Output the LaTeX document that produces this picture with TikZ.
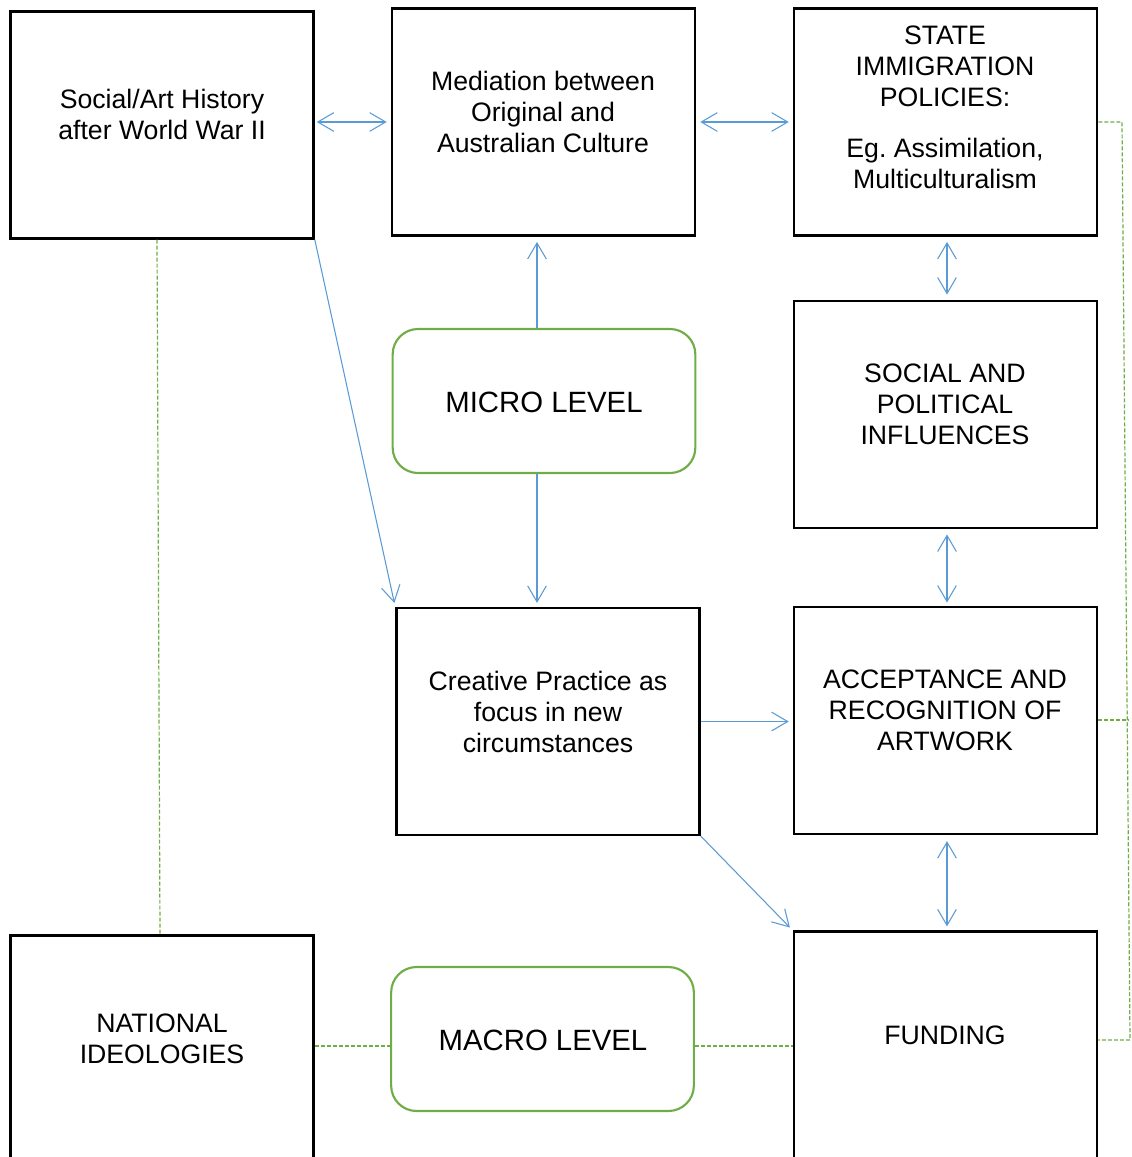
\documentclass[tikz,border=0pt]{standalone}
\usepackage{fontspec}
\setmainfont{Liberation Sans}
\usetikzlibrary{arrows.meta,calc}
\definecolor{arrblue}{HTML}{5B9BD5}
\definecolor{lvgreen}{HTML}{70AD47}
\begin{document}
\frenchspacing
\begin{tikzpicture}[x=0.75pt,y=-0.75pt,
  box/.style={draw=black, line width=1.9pt, inner sep=0pt, minimum width=227.25pt, minimum height=170pt},
  lvl/.style={draw=lvgreen, line width=1.6pt, rounded corners=19pt, inner sep=0pt, minimum width=227pt, minimum height=108pt},
  txt/.style={align=center, inner sep=0pt, font=\fontsize{20}{23.25}\selectfont},
  lvtxt/.style={align=center, inner sep=0pt, font=\fontsize{22}{26}\selectfont},
  conn/.style={draw=arrblue, line width=0.8pt},
  both/.style={conn, {Straight Barb[length=12pt,width=14pt]}-{Straight Barb[length=12pt,width=14pt]}},
  one/.style={conn, -{Straight Barb[length=12pt,width=14pt]}},
  gdash/.style={draw=lvgreen, line width=0.9pt, dash pattern=on 3pt off 1.5pt}
]
\useasboundingbox (0,0) rectangle (1132,1157);
\clip (0,0) rectangle (1132,1157);

% boxes
\node[box] (A) at (162,125) {};
\node[box] (B) at (543.5,122) {};
\node[box] (C) at (945.5,122) {};
\node[box] (D) at (945.5,414.5) {};
\node[lvl] (Mi) at (544,401) {};
\node[box] (E) at (548,721.5) {};
\node[box] (F) at (945.5,720.5) {};
\node[box] (G) at (162,1049) {};
\node[lvl] (Ma) at (542.5,1039) {};
\node[box] (H) at (945.5,1045) {};

% texts
\node[txt] (tA) at (162,114.5) {Social/Art History\\after World War II};
\node[txt] (tB) at (543,111.5) {Mediation between\\Original and\\Australian Culture};
\node[txt] (tC) at (945,107) {STATE\\IMMIGRATION\\POLICIES:\\[15pt]Eg. Assimilation,\\Multiculturalism};
\node[txt] (tD) at (945,404.5) {SOCIAL AND\\POLITICAL\\INFLUENCES};
\node[lvtxt] (tMi) at (544,402) {MICRO LEVEL};
\node[txt] (tE) at (548,711.5) {Creative Practice as\\focus in new\\circumstances};
\node[txt] (tF) at (945,710.5) {ACCEPTANCE AND\\RECOGNITION OF\\ARTWORK};
\node[txt] (tG) at (162,1038.5) {NATIONAL\\IDEOLOGIES};
\node[lvtxt] (tMa) at (543,1040) {MACRO LEVEL};
\node[txt] (tH) at (945,1035) {FUNDING};

% helper coordinates
\coordinate (mx) at (537,0);
\coordinate (rx) at (947,0);
\coordinate (my) at (0,1046);
\coordinate (r1) at (1122,122);
\coordinate (r2) at (1130,1040);
\coordinate (r3) at (1129,720);

% blue connectors
\draw[both, shorten <=1.5pt, shorten >=3pt] (A.east |- B.west) -- (B.west);
\draw[both, shorten <=3pt, shorten >=3pt] (B.east) -- (C.west);
\draw[one, shorten >=4pt] (Mi.north -| mx) -- (B.south -| mx);
\draw[one, shorten >=3pt] (Mi.south -| mx) -- (E.north -| mx);
\draw[one, shorten >=3pt] (A.south east) -- (E.north west);
\draw[both, shorten <=4pt, shorten >=4pt] (C.south -| rx) -- (D.north -| rx);
\draw[both, shorten <=4pt, shorten >=2.5pt] (D.south -| rx) -- (F.north -| rx);
\draw[both, shorten <=4.5pt, shorten >=3pt] (F.south -| rx) -- (H.north -| rx);
\draw[one, shorten >=3pt] (E.east) -- (F.west |- E.east);
\draw[one, shorten >=3pt] (E.south east) -- (H.north west);

% green dashed connectors
\draw[gdash] ($(A.south)+(-5,0)$) -- ($(G.north)+(-2,0)$);
\draw[gdash] (G.east |- my) -- (Ma.west |- my);
\draw[gdash] (Ma.east |- my) -- (H.west |- my);
\draw[gdash] (C.east) -- (r1) -- (r2) -- (r2 -| H.east);
\draw[gdash] (F.east |- r3) -- (r3);
\end{tikzpicture}
\end{document}
